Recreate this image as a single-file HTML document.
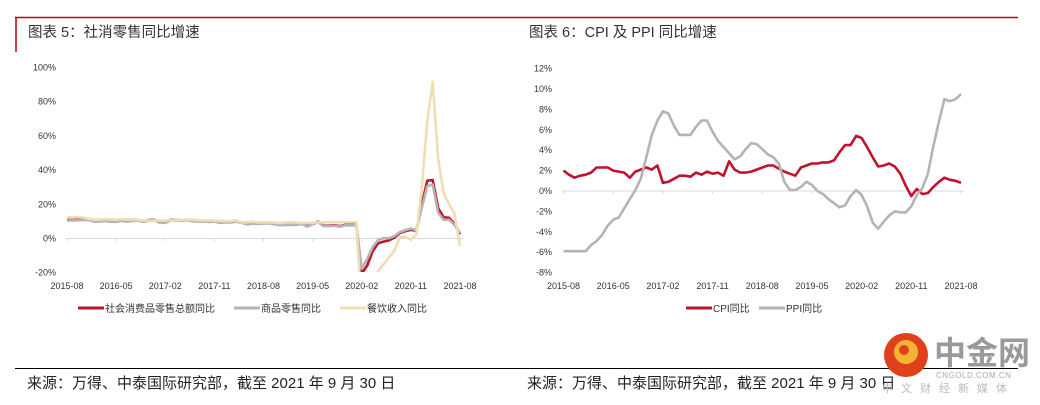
<!DOCTYPE html>
<html><head><meta charset="utf-8"><style>
body{margin:0;background:#fff;}
svg{display:block;font-family:"Liberation Sans","Noto Sans CJK SC",sans-serif;}
</style></head><body>
<svg width="1040" height="405" viewBox="0 0 1040 405" xmlns="http://www.w3.org/2000/svg">
<defs>
<clipPath id="clipL"><rect x="60" y="60" width="410" height="212"/></clipPath>
<clipPath id="clipR"><rect x="555" y="60" width="420" height="213"/></clipPath>
</defs>
<line x1="15" y1="17.5" x2="1018" y2="17.5" stroke="#c00000" stroke-width="1.5"/>
<line x1="16" y1="17" x2="16" y2="52" stroke="#c00000" stroke-width="1.5"/>
<text x="28" y="37" font-size="14.5" fill="#333">图表 5：社消零售同比增速</text>
<text x="529" y="37" font-size="14.5" fill="#333">图表 6：CPI 及 PPI 同比增速</text>
<g id="chartL"></g>
<g id="chartR"></g>
<line x1="15" y1="368.5" x2="1018" y2="368.5" stroke="#000" stroke-width="1"/>
<text x="27" y="388" font-size="15" fill="#222">来源：万得、中泰国际研究部，截至 2021 年 9 月 30 日</text>
<text x="527" y="388" font-size="15" fill="#222">来源：万得、中泰国际研究部，截至 2021 年 9 月 30 日</text>
<g>
<circle cx="906" cy="355" r="22" fill="#e0401a"/>
<circle cx="906" cy="352" r="12" fill="#f5b335"/>
<circle cx="904" cy="350" r="5" fill="#e0401a"/>
<text x="934" y="364" font-size="32" font-weight="bold" fill="#9a9a9a">中金网</text>
<text x="936" y="378" font-size="8" fill="#aaa" letter-spacing="0.5">CNGOLD.COM.CN</text>
<text x="882" y="392" font-size="11" fill="#bbb" letter-spacing="8">中文财经新媒体</text>
</g>
</svg>
<script>
const months = [];
for (let y=2015,m=8; !(y===2021&&m===9); m++){ if(m>12){m=1;y++;} if(y===2021&&m===9)break; months.push(y+'-'+String(m).padStart(2,'0')); }
const xTickLabels = ['2015-08','2016-05','2017-02','2017-11','2018-08','2019-05','2020-02','2020-11','2021-08'];
const yTicksL = [100,80,60,40,20,0,-20];
const yTicksR = [12,10,8,6,4,2,0,-2,-4,-6,-8];
const retailTotal = [10.8,10.9,11.0,11.2,11.1, 10.2,10.2,10.5,10.1,10.0,10.6,10.2,10.6,10.7,10.0,10.8,10.9, 9.5,9.5,10.9,10.7,10.7,11.0,10.4,10.1,10.3,10.0,10.2,9.4, 9.7,9.7,10.1,9.4,8.5,9.0,8.8,9.0,9.2,8.6,8.1,8.2, 8.2,8.2,8.7,7.2,8.6,9.8,7.6,7.5,7.8,7.2,8.0,8.0, 8.0,-20.5,-15.8,-7.5,-2.8,-1.8,-1.1,0.5,3.3,4.3,5.0,4.6, 20,33.8,34.2,17.7,12.4,12.1,8.5,2.5];
const retailGoods = [10.5,10.6,10.7,10.9,10.8, 9.9,9.9,10.2,9.8,9.7,10.3,9.9,10.3,10.4,9.7,10.5,10.6, 9.2,9.2,10.6,10.4,10.4,10.7,10.1,9.8,10.0,9.7,9.9,9.1, 9.4,9.4,9.8,9.1,8.2,8.7,8.5,8.7,8.9,8.3,7.8,7.9, 7.9,7.9,8.4,6.9,8.3,9.5,7.3,7.2,7.5,6.9,7.7,7.7, 7.7,-17.6,-12.0,-5.1,-0.8,0.2,0.2,1.4,3.8,4.9,5.8,4.9, 18,30.7,31.5,15.1,10.9,11.0,7.9,3.3];
const catering = [12.5,12.3,12.5,12.3,11.5, 11,11,11.2,11.2,11,11.2,11,11.2,10.8,10.5,10.5,10.5, 10.5,10.5,10.6,10.6,11,11,11,10.6,10.5,10.5,10.4,10.3, 10.2,10.2,10.6,9.5,9.5,9.8,9.5,9.4,9.4,9.3,9,9.3, 9.3,9.3,9.0,9.0,9.2,9.4,9.5,9.5,9.6,9.5,9.5,9.5, 9.5,-43.1,-46.8,-31.1,-18.9,-15.2,-11,-7,0.7,0.8,-0.6,2.2, 30,68.9,91.6,46.4,26.6,20.2,14.3,-4.5];
const cpi = [2.0,1.6,1.3,1.5,1.6, 1.8,2.3,2.3,2.3,2.0,1.9,1.8,1.3,1.9,2.1,2.3,2.1, 2.5,0.8,0.9,1.2,1.5,1.5,1.4,1.8,1.6,1.9,1.7,1.8, 1.5,2.9,2.1,1.8,1.8,1.9,2.1,2.3,2.5,2.5,2.2,1.9, 1.7,1.5,2.3,2.5,2.7,2.7,2.8,2.8,3.0,3.8,4.5,4.5, 5.4,5.2,4.3,3.3,2.4,2.5,2.7,2.4,1.7,0.5,-0.5,0.2, -0.3,-0.2,0.4,0.9,1.3,1.1,1.0,0.8];
const ppi = [-5.9,-5.9,-5.9,-5.9,-5.9, -5.3,-4.9,-4.3,-3.4,-2.8,-2.6,-1.7,-0.8,0.1,1.2,3.3,5.5, 6.9,7.8,7.6,6.4,5.5,5.5,5.5,6.3,6.9,6.9,5.8,4.9, 4.3,3.7,3.1,3.4,4.1,4.7,4.6,4.1,3.6,3.3,2.7,0.9, 0.1,0.1,0.4,0.9,0.6,0.0,-0.3,-0.8,-1.2,-1.6,-1.4,-0.5, 0.1,-0.4,-1.5,-3.1,-3.7,-3.0,-2.4,-2.0,-2.1,-2.1,-1.5,-0.4, 0.3,1.7,4.4,6.8,9.0,8.8,9.0,9.5];

const NS='http://www.w3.org/2000/svg';
function mk(tag, attrs, parent){ const e=document.createElementNS(NS,tag); for(const k in attrs) e.setAttribute(k,attrs[k]); parent.appendChild(e); return e; }

function drawChart(g, cfg){
  const xs = i => cfg.x0 + i*(cfg.x1-cfg.x0)/(months.length-1);
  const ys = v => cfg.yZero - v*cfg.pxPer;
  cfg.yTicks.forEach(t=>{
    const e=mk('text',{x:cfg.yLabX,y:ys(t)+3,'font-size':'9','text-anchor':'end',fill:'#333'},g);
    e.textContent=t+'%';
    
    
  });
  const ax=mk('line',{x1:cfg.x0-1,x2:cfg.x1+3,y1:ys(0),y2:ys(0),stroke:'#d9d9d9','stroke-width':1},g);
  
  
  xTickLabels.forEach(lbl=>{
    const i=months.indexOf(lbl);
    const tk=mk('line',{x1:xs(i),x2:xs(i),y1:ys(0),y2:ys(0)+3,stroke:'#d9d9d9'},g);
    
    
    const e=mk('text',{x:xs(i),y:cfg.xLabY,'font-size':'9','text-anchor':'middle',fill:'#333'},g);
    e.textContent=lbl;
    
    
  });
  cfg.series.forEach(s=>{
    const d=s.data.map((v,i)=>(i?'L':'M')+xs(i).toFixed(1)+' '+ys(v).toFixed(1)).join(' ');
    const p=mk('path',{d:d,fill:'none',stroke:s.color,'stroke-width':2.6,'stroke-linejoin':'round','clip-path':'url(#'+cfg.clip+')'},g);
    
    
  });
  cfg.legend.forEach(l=>{
    const ln=mk('line',{x1:l.x,x2:l.x+26,y1:cfg.legY,y2:cfg.legY,stroke:l.color,'stroke-width':3},g);
    
    
    const t=mk('text',{x:l.x+27,y:cfg.legY+4,'font-size':'10',fill:'#333'},g);
    t.textContent=l.label;
    
    
  });
}

drawChart(document.getElementById('chartL'),{
  x0:67,x1:460,yZero:238.5,pxPer:34.2/20,yTicks:yTicksL,yLabX:56,xLabY:289,clip:'clipL',legY:308,
  series:[
    {name:'total-retail-line',data:retailTotal,color:'#c0142c'},
    {name:'goods-retail-line',data:retailGoods,color:'#b4b4b4'},
    {name:'catering-line',data:catering,color:'#f1dcb4'}
  ],
  legend:[{x:78,color:'#c0142c',label:'社会消费品零售总额同比'},{x:234,color:'#b4b4b4',label:'商品零售同比'},{x:340,color:'#f1dcb4',label:'餐饮收入同比'}]
});
drawChart(document.getElementById('chartR'),{
  x0:563.5,x1:961,yZero:191,pxPer:20.4/2,yTicks:yTicksR,yLabX:552,xLabY:289,clip:'clipR',legY:308,
  series:[
    {name:'cpi-line',data:cpi,color:'#c0142c'},
    {name:'ppi-line',data:ppi,color:'#b4b4b4'}
  ],
  legend:[{x:686,color:'#c0142c',label:'CPI同比'},{x:759,color:'#b4b4b4',label:'PPI同比'}]
});
</script>
</body></html>
